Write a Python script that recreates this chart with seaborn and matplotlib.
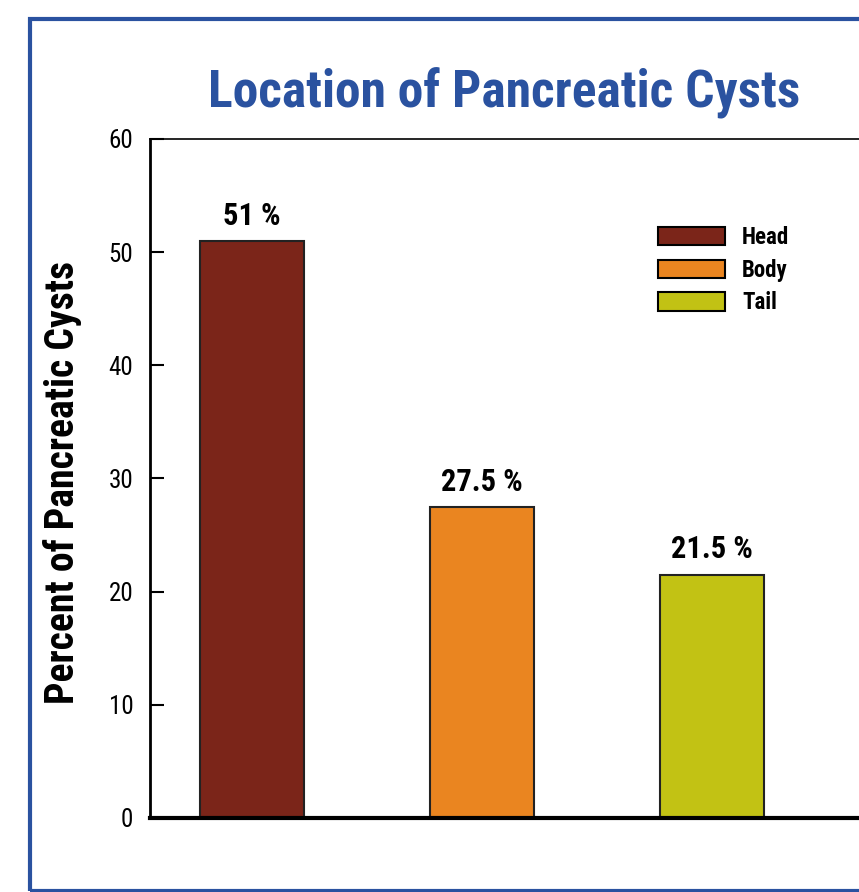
import pandas as pd
import matplotlib.pyplot as plt
import seaborn as sns
from matplotlib import font_manager
from matplotlib.patches import Rectangle

locations = ['Head', 'Body', 'Tail']
percents = [51.0, 27.5, 21.5]
bar_labels = ['51 %', '27.5 %', '21.5 %']
colours = ['#7b2519', '#ea8520', '#c2c214']
yticks = [0, 10, 20, 30, 40, 50, 60]

df = pd.DataFrame({'location': locations, 'percent': percents})

# pick a narrow font if one is around
installed = {f.name for f in font_manager.fontManager.ttflist}
narrow = [n for n in ['Liberation Sans Narrow', 'DejaVu Sans Condensed', 'Roboto Condensed',
                      'Open Sans Condensed', 'Roboto', 'DejaVu Sans'] if n in installed]

sns.set_style('white')
plt.rcParams['font.family'] = narrow + ['DejaVu Sans']
plt.rcParams['text.color'] = 'black'
plt.rcParams['axes.labelcolor'] = 'black'
plt.rcParams['ytick.color'] = 'black'

fig = plt.figure(figsize=(8.59, 8.92), dpi=100)
ax = fig.add_axes([0.1746, 0.083, 0.8254, 0.7612])

sns.barplot(data=df, x='location', y='percent', hue='location',
            palette=colours, saturation=1, dodge=False, width=0.452, legend=True,
            edgecolor='#222222', linewidth=1.5, ax=ax)

for i, lab in enumerate(bar_labels):
    ax.text(i, percents[i] + 0.9, lab, ha='center', va='bottom',
            fontsize=22, fontweight='bold', color='black')

ax.set_xlim(-0.443, 2.64)
ax.set_ylim(0, 60)
ax.set_yticks(yticks)
ax.set_yticklabels([str(t) for t in yticks], fontsize=18)
ax.tick_params(axis='y', direction='in', length=10, width=1.5, pad=12, left=True)
ax.set_xticks([])
ax.set_xlabel('')
ax.set_ylabel('')

ax.spines['right'].set_visible(False)
ax.spines['bottom'].set_linewidth(3)
ax.spines['left'].set_linewidth(2)
ax.spines['top'].set_linewidth(1.2)
for s in ['bottom', 'left', 'top']:
    ax.spines[s].set_color('black')

leg = ax.legend(loc='upper left', bbox_to_anchor=(0.688, 0.902), frameon=False,
                handlelength=2.9, handleheight=0.85, labelspacing=0.42,
                handletextpad=0.75, prop={'weight': 'bold', 'size': 16.5})
for h in leg.legend_handles:
    h.set_edgecolor('black')
    h.set_linewidth(1.5)

title = fig.text(0.587, 0.895, 'Location of Pancreatic Cysts', ha='center', va='center',
                 fontsize=40, fontweight='bold', color='#2a52a0')
ylab = fig.text(62 / 859, 1 - 483 / 892, 'Percent of Pancreatic Cysts', rotation=90,
                ha='center', va='center', fontsize=21, fontweight='heavy')

# squeeze the long texts to the widths seen in the reference
r = fig.canvas.get_renderer()
w = title.get_window_extent(r).width
title.set_fontsize(40 * 592 / w)
h = ylab.get_window_extent(r).height
ylab.set_fontsize(21 * 443 / h)

fig.patches.append(Rectangle((30 / 859, 0.001), 1.2, 1 - 19 / 892 - 0.001,
                             transform=fig.transFigure, fill=False,
                             edgecolor='#2a52a0', linewidth=3))

fig.savefig('out.png', dpi=100)
